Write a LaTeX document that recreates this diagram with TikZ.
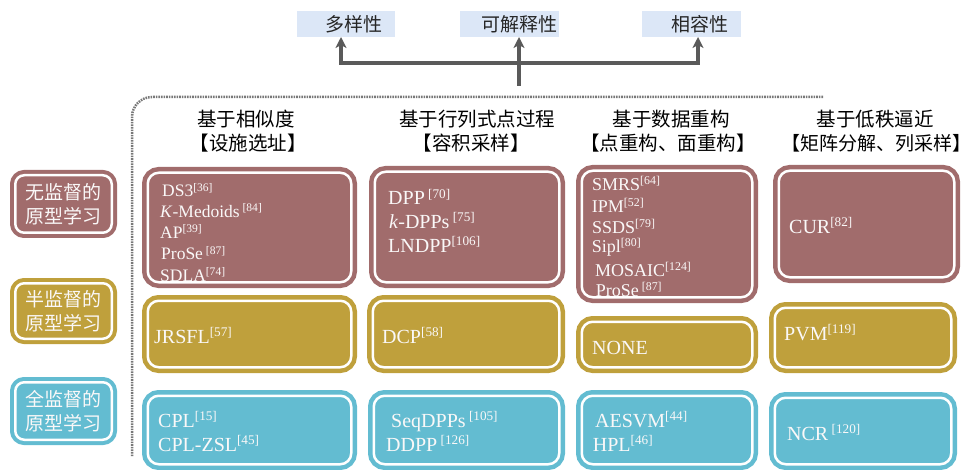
\documentclass[tikz,border=0pt]{standalone}
\usepackage{fontspec}
\setmainfont{Liberation Serif}
\newfontfamily\cjk{Noto Sans CJK SC}
\usetikzlibrary{arrows.meta}
\definecolor{maroonc}{RGB}{161,108,108}
\definecolor{goldc}{RGB}{191,160,60}
\definecolor{cyanc}{RGB}{99,188,209}
\definecolor{toplab}{RGB}{220,231,247}
\definecolor{arrc}{RGB}{90,90,90}
\definecolor{dotc}{RGB}{120,120,120}
\definecolor{txtc}{RGB}{250,248,248}
\makeatletter
\newcommand\cit[1]{\raisebox{0.34em}{\fontsize{\strip@pt\dimexpr0.66\dimexpr\f@size pt\relax\relax}{1}\selectfont[#1]}}
\makeatother
\tikzset{
  gb/.style={rectangle, rounded corners=11, line width=4.5, double=white, double distance=2.5, inner sep=0, outer sep=0},
  lb/.style={rectangle, rounded corners=9, line width=4, double=white, double distance=2.5, inner sep=0, outer sep=0, text=txtc, align=center, font=\cjk\fontsize{19}{24.5}\selectfont},
  tx/.style={anchor=base west, inner sep=0, text=txtc, font=\fontsize{20}{20}\selectfont},
  txs/.style={tx, font=\fontsize{17.5}{17.5}\selectfont},
  txm/.style={tx, font=\fontsize{18}{18}\selectfont},
  hd/.style={inner sep=0, text=black, font=\cjk\fontsize{19.5}{19.5}\selectfont},
  hds/.style={hd, font=\cjk\fontsize{19}{19}\selectfont},
  tl/.style={fill=toplab, minimum height=26, inner sep=0, outer sep=0},
  tlt/.style={inner sep=0, text=black!85, font=\cjk\fontsize{19}{19}\selectfont},
  conn/.style={draw=arrc, line width=3.5, line join=miter},
  border/.style={draw=dotc, line width=2.5, dash pattern=on 1.6pt off 1pt, rounded corners=20},
}
\newcommand\gbox[6]{\node[gb, fill=#2, draw=#2, minimum width={#5-#3-11.5}, minimum height={#6-#4-11.5}] (#1) at ({(#3+#5)/2},{(#4+#6)/2}) {};}
\begin{document}
\begin{tikzpicture}[x=1pt,y=-1pt]
\useasboundingbox (0,0) rectangle (971,470);
\clip (0,0) rectangle (971,470);
% top labels
\node[tl, minimum width=98] (t1) at (346,24) {};
\node[tl, minimum width=99] (t2) at (509.5,24) {};
\node[tl, minimum width=99] (t3) at (691.5,24) {};
\node[tlt] (t1x) at (354,24) {多样性};
\node[tlt] (t2x) at (519,24) {可解释性};
\node[tlt] (t3x) at (700,24) {相容性};
% connectors
\coordinate (jl) at (341,63);
\coordinate (jr) at (698,63);
\coordinate (st) at (519,86);
\draw[conn, {Stealth[length=11,width=11,inset=3]}-{Stealth[length=11,width=11,inset=3]}] (jl |- t1.south) -- (jl) -- (jr) -- (jr |- t3.south);
\draw[conn, -{Stealth[length=11,width=11,inset=3]}] (st) -- (st |- t2.south);
% dotted frame
\coordinate (b1) at (823,97);
\coordinate (b2) at (132,97);
\coordinate (b3) at (132,456);
\draw[border] (b1) -- (b2) -- (b3);
% headers
\node[hd] (h1a) at (246,119) {基于相似度};
\node[hd] (h1b) at (248,143) {【设施选址】};
\node[hd] (h2a) at (477,119) {基于行列式点过程};
\node[hd] (h2b) at (471,143) {【容积采样】};
\node[hd] (h3a) at (671,119) {基于数据重构};
\node[hd] (h3b) at (668,143) {【点重构、面重构】};
\node[hd] (h4a) at (875,119) {基于低秩逼近};
\node[hds] (h4b) at (876,143) {【矩阵分解、列采样】};
% row labels
\node[lb, fill=maroonc, draw=maroonc, minimum width=96.5, minimum height=57.5] (L1) at (63.5,204) {无监督的\\原型学习};
\node[lb, fill=goldc, draw=goldc, minimum width=96.5, minimum height=55.5] (L2) at (63.5,311) {半监督的\\原型学习};
\node[lb, fill=cyanc, draw=cyanc, minimum width=96.5, minimum height=57.5] (L3) at (63.5,411) {全监督的\\原型学习};
% grid boxes
\gbox{a1}{maroonc}{142}{167}{357}{288}
\gbox{a2}{maroonc}{369}{166}{565}{288}
\gbox{a3}{maroonc}{576}{165}{758}{303}
\gbox{a4}{maroonc}{773}{165}{960}{283}
\gbox{b1}{goldc}{142}{295}{357}{373}
\gbox{b2}{goldc}{367}{295}{565}{373}
\gbox{b3}{goldc}{576}{316}{758}{373}
\gbox{b4}{goldc}{769}{302}{957}{373}
\gbox{c1}{cyanc}{142}{390}{357}{470}
\gbox{c2}{cyanc}{368}{390}{565}{470}
\gbox{c3}{cyanc}{576}{390}{758}{470}
\gbox{c4}{cyanc}{769}{392}{957}{470}
% row 1 texts
\node[txs] (a1x1) at (162,197) {DS3\cit{36}};
\node[txs] (a1x2) at (160,217.3) {\textit{K}-Medoids\,\cit{84}};
\node[txs] (a1x3) at (160,238.3) {AP\cit{39}};
\node[txs] (a1x4) at (161,260) {ProSe\,\cit{87}};
\node[txs] (a1x5) at (160,281) {SDLA\cit{74}};
\node[tx] (a2x1) at (388,205) {DPP\,\cit{70}};
\node[tx] (a2x2) at (389,228.5) {\textit{k}-DPPs\,\cit{75}};
\node[tx] (a2x3) at (388,252) {LNDPP\cit{106}};
\node[txm] (a3x1) at (592,191) {SMRS\cit{64}};
\node[txm] (a3x2) at (591.7,213) {IPM\cit{52}};
\node[txm] (a3x3) at (592,234) {SSDS\cit{79}};
\node[txm] (a3x4) at (591.7,253) {Sipl\cit{80}};
\node[txm] (a3x5) at (595,276.7) {MOSAIC\cit{124}};
\node[txm] (a3x6) at (595.7,296.7) {ProSe\,\cit{87}};
\node[tx] (a4x1) at (789,233.3) {CUR\cit{82}};
% row 2 texts
\node[tx] (b1x1) at (154,343.3) {JRSFL\cit{57}};
\node[tx] (b2x1) at (382,343.3) {DCP\cit{58}};
\node[tx] (b3x1) at (592,354) {NONE};
\node[tx] (b4x1) at (784,340.7) {PVM\cit{119}};
% row 3 texts
\node[tx] (c1x1) at (158,427.3) {CPL\cit{15}};
\node[tx] (c1x2) at (158,451.7) {CPL-ZSL\cit{45}};
\node[tx] (c2x1) at (391,427) {SeqDPPs\,\cit{105}};
\node[tx] (c2x2) at (386,451.7) {DDPP\,\cit{126}};
\node[tx] (c3x1) at (595,427.3) {AESVM\cit{44}};
\node[tx] (c3x2) at (592.7,451.7) {HPL\cit{46}};
\node[tx] (c4x1) at (787,440.7) {NCR\,\cit{120}};
\end{tikzpicture}
\end{document}
